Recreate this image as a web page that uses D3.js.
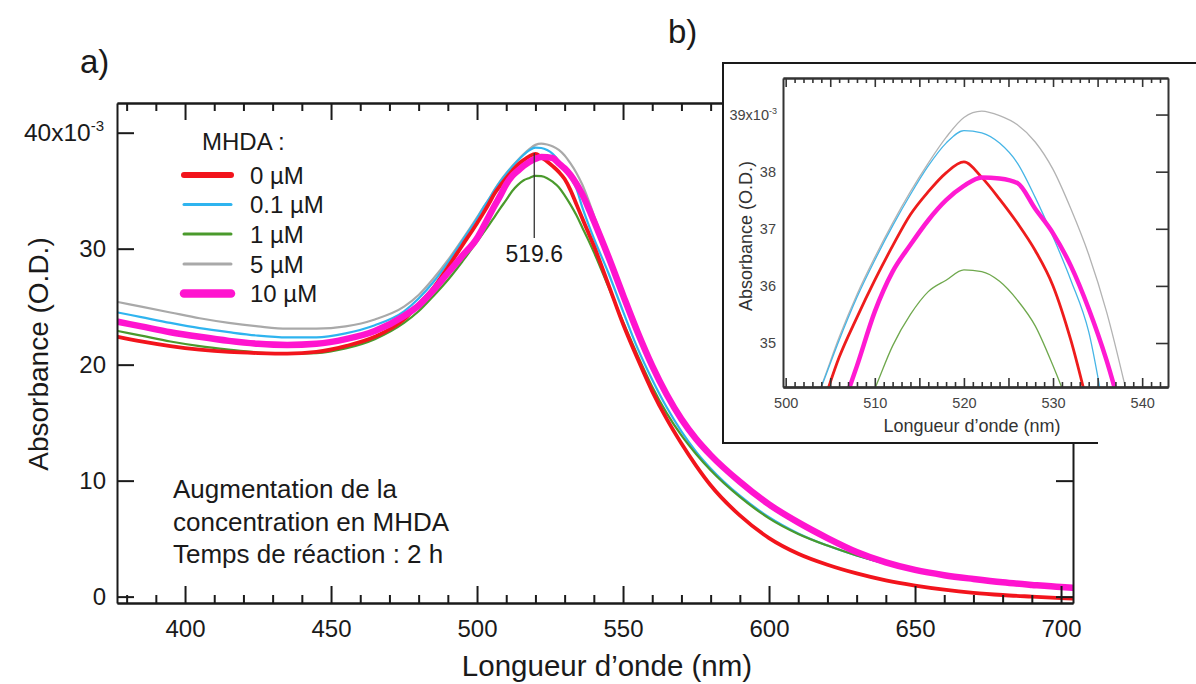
<!DOCTYPE html>
<html>
<head>
<meta charset="utf-8">
<script src="https://cdn.jsdelivr.net/npm/d3@7"></script>
<style>
  html, body { margin: 0; padding: 0; background: #fff; }
  svg { display: block; font-family: "Liberation Sans", Arial, sans-serif; }
</style>
</head>
<body>
<svg id="chart" width="1196" height="684"></svg>
<script>
// ---- data (absorbance in units of 1e-3 O.D.) ----
const wavelengths = [377, 385, 395, 405, 415, 425, 435, 445, 455, 465, 475,
  480, 485, 490, 495,
  500, 502, 504, 506, 508, 510, 512, 514, 516, 518, 520, 522, 524, 526, 528, 530, 532, 534, 536, 538, 540,
  545, 550, 555, 560, 565, 570, 575, 580,
  590, 600, 610, 620, 630, 640, 650, 660, 670, 680, 690, 700, 704];

const mhda5 = [25.4, 25.0, 24.5, 24.0, 23.6, 23.3, 23.1, 23.1, 23.3, 23.9, 25.0,
  26.0, 27.4, 29.0, 30.8,
  32.7, 33.5, 34.25, 35.1, 35.85, 36.5, 37.1, 37.65, 38.15, 38.6, 38.95, 39.06, 38.98, 38.82, 38.52, 38.04, 37.35, 36.55, 35.55, 34.3, 32.9,
  29.5, 26.0, 22.7, 19.75, 17.25, 15.15, 13.45, 12.05,
  9.75, 7.8, 6.25, 4.95, 3.75, 2.88, 2.25, 1.8, 1.47, 1.18, 0.96, 0.77, 0.72];

const mhda01 = [24.5, 24.1, 23.6, 23.15, 22.8, 22.5, 22.35, 22.35, 22.7, 23.4, 24.6,
  25.7, 27.1, 28.8, 30.7,
  32.6, 33.45, 34.23, 35.05, 35.8, 36.45, 37.05, 37.6, 38.1, 38.5, 38.72, 38.68, 38.5, 38.15, 37.55, 36.86, 36.1, 35.2, 33.6, 32.2, 30.9,
  27.9, 24.6, 21.4, 18.7, 16.3, 14.25, 12.5, 11.05,
  8.7, 6.85, 5.45, 4.4, 3.55, 2.85, 2.28, 1.84, 1.5, 1.22, 1.0, 0.8, 0.74];

const mhda1 = [22.9, 22.5, 22.0, 21.6, 21.3, 21.05, 20.95, 21.0, 21.4, 22.2, 23.6,
  24.6, 25.9, 27.3, 28.9,
  30.6, 31.3, 32.0, 32.75, 33.5, 34.2, 34.95, 35.5, 35.9, 36.1, 36.28, 36.25, 36.08, 35.75, 35.3, 34.6, 33.8, 32.9, 31.85, 30.8, 29.7,
  26.7, 23.7, 20.8, 18.1, 15.8, 13.9, 12.3, 10.9,
  8.6, 6.75, 5.4, 4.4, 3.55, 2.85, 2.28, 1.84, 1.5, 1.22, 1.0, 0.8, 0.74];

const mhda0 = [22.4, 22.0, 21.6, 21.3, 21.1, 21.0, 20.95, 21.1, 21.6, 22.4, 23.9,
  25.2, 26.6, 28.4, 30.3,
  32.2, 33.0, 33.85, 34.75, 35.45, 36.1, 36.7, 37.25, 37.65, 37.98, 38.17, 37.9, 37.52, 37.1, 36.62, 36.0, 35.05, 33.85, 32.65, 31.45, 30.25,
  26.9, 23.5, 20.5, 17.7, 15.3, 13.2, 11.3, 9.6,
  7.0, 5.05, 3.7, 2.75, 2.0, 1.4, 0.95, 0.6, 0.33, 0.14, 0.0, -0.13, -0.18];

const mhda10 = [23.7, 23.3, 22.8, 22.4, 22.05, 21.8, 21.7, 21.8, 22.2, 22.9, 24.2,
  25.1, 26.4, 27.9, 29.4,
  30.9, 31.8, 32.75, 33.7, 34.6, 35.55, 36.25, 36.72, 37.15, 37.5, 37.75, 37.9, 37.88, 37.8, 37.35, 36.92, 36.35, 35.6, 34.7, 33.6, 32.4,
  29.3, 26.0, 22.8, 19.9, 17.4, 15.3, 13.6, 12.2,
  9.9, 7.95, 6.4, 5.05, 3.85, 2.95, 2.3, 1.85, 1.52, 1.23, 1.01, 0.82, 0.77];

const seriesLabels = ["0 µM", "0.1 µM", "1 µM", "5 µM", "10 µM"];
const seriesValues = [mhda0, mhda01, mhda1, mhda5, mhda10];
const seriesColors = ["#f2141c", "#2fb4ef", "#4a9a2c", "#a9a9a9", "#ff14cf"];
const mainWidths = [3.8, 2.2, 2.2, 2.2, 6.5];
const legendWidths = [6, 3, 3, 3, 8.5];
const insetColors = ["#ee1c1c", "#46b5e6", "#6fa84d", "#b3b3b3", "#ff1ad2"];
const insetWidths = [2.8, 1.3, 1.3, 1.3, 4.5];
const drawOrder = [3, 1, 2, 0, 4];

const xMajor = [400, 450, 500, 550, 600, 650, 700];
const yMajor = [0, 10, 20, 30, 40];
const insetXMajor = [500, 510, 520, 530, 540];
const insetYMajor = [35, 36, 37, 38, 39];
const peakLabel = 519.6;

const notes = ["Augmentation de la", "concentration en MHDA", "Temps de réaction : 2 h"];

// ---- drawing ----
const svg = d3.select("#chart");
const FONT = '"Liberation Sans", Arial, sans-serif';

const x = d3.scaleLinear().domain([376.7, 704.1]).range([117, 1073]);
const y = d3.scaleLinear().domain([-0.55, 42.56]).range([603, 103]);

svg.append("defs").append("clipPath").attr("id", "mainClip")
  .append("rect").attr("x", 117).attr("y", 103).attr("width", 956).attr("height", 500);

const rows = (vals) => wavelengths.map((w, i) => ({ w, v: vals[i] }));
const lineMain = d3.line().x(d => x(d.w)).y(d => y(d.v)).curve(d3.curveMonotoneX);

const gLines = svg.append("g").attr("clip-path", "url(#mainClip)");
drawOrder.forEach(i => {
  gLines.append("path").datum(rows(seriesValues[i]))
    .attr("d", lineMain).attr("fill", "none")
    .attr("stroke", seriesColors[i]).attr("stroke-width", mainWidths[i])
    .attr("stroke-linejoin", "round").attr("stroke-linecap", "round");
});

// axes (inward ticks, mirrored frame)
function styleAxis(g, fs) {
  g.selectAll("path.domain").attr("stroke", "#1a1a1a").attr("stroke-width", 2);
  g.selectAll(".tick line").attr("stroke", "#1a1a1a").attr("stroke-width", 2);
  g.selectAll(".tick text").attr("font-family", FONT).attr("font-size", fs).attr("fill", "#1a1a1a");
}
const minorX = d3.range(380, 701, 10).filter(v => !xMajor.includes(v));

const gB = svg.append("g").attr("transform", "translate(0,603)")
  .call(d3.axisBottom(x).tickValues(xMajor).tickSize(-17).tickSizeOuter(0).tickPadding(17).tickFormat(d3.format("d")));
styleAxis(gB, 24);
const gBm = svg.append("g").attr("transform", "translate(0,603)")
  .call(d3.axisBottom(x).tickValues(minorX).tickSize(-8).tickSizeOuter(0).tickFormat(""));
styleAxis(gBm, 24);
const gT = svg.append("g").attr("transform", "translate(0,103)")
  .call(d3.axisTop(x).tickValues(xMajor).tickSize(-17).tickSizeOuter(0).tickFormat(""));
styleAxis(gT, 24);
const gTm = svg.append("g").attr("transform", "translate(0,103)")
  .call(d3.axisTop(x).tickValues(minorX).tickSize(-8).tickSizeOuter(0).tickFormat(""));
styleAxis(gTm, 24);
const gL = svg.append("g").attr("transform", "translate(117,0)")
  .call(d3.axisLeft(y).tickValues(yMajor).tickSize(-17).tickSizeOuter(0).tickPadding(11)
    .tickFormat(d => d === 40 ? "" : d));
styleAxis(gL, 24);
const gR = svg.append("g").attr("transform", "translate(1073,0)")
  .call(d3.axisRight(y).tickValues(yMajor).tickSize(-17).tickSizeOuter(0).tickFormat(""));
styleAxis(gR, 24);

// 40x10^-3 label
const t40 = svg.append("text").attr("x", 104).attr("y", y(40)).attr("dy", "0.35em")
  .attr("text-anchor", "end").attr("font-family", FONT).attr("font-size", 24.5).attr("fill", "#1a1a1a");
t40.append("tspan").text("40x10");
t40.append("tspan").attr("font-size", 15).attr("dy", -10).text("-3");

// axis titles
svg.append("text").attr("x", 607).attr("y", 676).attr("text-anchor", "middle")
  .attr("font-family", FONT).attr("font-size", 29.5).attr("fill", "#1a1a1a").text("Longueur d’onde (nm)");
svg.append("text").attr("transform", "translate(48,354) rotate(-90)").attr("text-anchor", "middle")
  .attr("font-family", FONT).attr("font-size", 28).attr("fill", "#1a1a1a").text("Absorbance (O.D.)");

// peak annotation
const peakV = 38.25;
svg.append("line").attr("x1", x(peakLabel)).attr("x2", x(peakLabel))
  .attr("y1", y(peakV)).attr("y2", 238).attr("stroke", "#333").attr("stroke-width", 1.3);
svg.append("text").attr("x", x(peakLabel)).attr("y", 262).attr("text-anchor", "middle")
  .attr("font-family", FONT).attr("font-size", 23).attr("fill", "#1a1a1a").text(peakLabel.toFixed(1));

// legend
svg.append("text").attr("x", 202).attr("y", 150).attr("font-family", FONT).attr("font-size", 24)
  .attr("fill", "#1a1a1a").text("MHDA :");
const legY = [175, 204.5, 234, 264, 293.5];
seriesLabels.forEach((lab, i) => {
  svg.append("line").attr("x1", 184).attr("x2", 231).attr("y1", legY[i]).attr("y2", legY[i])
    .attr("stroke", seriesColors[i]).attr("stroke-width", legendWidths[i]).attr("stroke-linecap", "round");
  svg.append("text").attr("x", 250).attr("y", legY[i] + 8.5).attr("font-family", FONT).attr("font-size", 24)
    .attr("fill", "#1a1a1a").text(lab);
});

// notes
const noteY = [498, 531, 563];
notes.forEach((t, i) => {
  svg.append("text").attr("x", 173).attr("y", noteY[i]).attr("font-family", FONT).attr("font-size", 26)
    .attr("fill", "#1a1a1a").text(t);
});

// panel labels
svg.append("text").attr("x", 80).attr("y", 73).attr("font-family", FONT).attr("font-size", 33)
  .attr("fill", "#1a1a1a").text("a)");
svg.append("text").attr("x", 668).attr("y", 43).attr("font-family", FONT).attr("font-size", 33)
  .attr("fill", "#1a1a1a").text("b)");

// ---- inset ----
const gI = svg.append("g");
gI.append("rect").attr("x", 723).attr("y", 63).attr("width", 480).attr("height", 380).attr("fill", "#fff");
gI.append("path").attr("d", "M1200,63 H723 V443 H1098").attr("fill", "none")
  .attr("stroke", "#1a1a1a").attr("stroke-width", 2);

const xi = d3.scaleLinear().domain([499.7, 542.9]).range([783, 1168]);
const yi = d3.scaleLinear().domain([34.23, 39.64]).range([387, 78]);

svg.select("defs").append("clipPath").attr("id", "insetClip")
  .append("rect").attr("x", 783).attr("y", 78).attr("width", 385).attr("height", 309);

const lineInset = d3.line().x(d => xi(d.w)).y(d => yi(d.v)).curve(d3.curveMonotoneX);
const gIL = gI.append("g").attr("clip-path", "url(#insetClip)");
drawOrder.forEach(i => {
  gIL.append("path").datum(rows(seriesValues[i]))
    .attr("d", lineInset).attr("fill", "none")
    .attr("stroke", insetColors[i]).attr("stroke-width", insetWidths[i])
    .attr("stroke-linejoin", "round");
});

function styleInset(g) {
  g.selectAll("path.domain").attr("stroke", "#333").attr("stroke-width", 2);
  g.selectAll(".tick line").attr("stroke", "#333").attr("stroke-width", 1.6);
  g.selectAll(".tick text").attr("font-family", FONT).attr("font-size", 14.5).attr("fill", "#444");
}
const iMinor = d3.range(500, 543, 1).filter(v => v % 5 !== 0);
const iMid = d3.range(500, 543, 5);
[[387, d3.axisBottom], [78, d3.axisTop]].forEach(([yy, ax]) => {
  const g1 = gI.append("g").attr("transform", `translate(0,${yy})`)
    .call(ax(xi).tickValues(iMinor).tickSize(-5).tickSizeOuter(0).tickFormat(""));
  styleInset(g1);
  const g2 = gI.append("g").attr("transform", `translate(0,${yy})`)
    .call(ax(xi).tickValues(iMid).tickSize(-9).tickSizeOuter(0).tickFormat(""));
  styleInset(g2);
});
const gIBl = gI.append("g").attr("transform", "translate(0,387)")
  .call(d3.axisBottom(xi).tickValues(insetXMajor).tickSize(0).tickSizeOuter(0).tickPadding(11).tickFormat(d3.format("d")));
styleInset(gIBl);
const gILa = gI.append("g").attr("transform", "translate(783,0)")
  .call(d3.axisLeft(yi).tickValues(insetYMajor).tickSize(0).tickSizeOuter(0).tickPadding(7)
    .tickFormat(d => d === 39 ? "" : d));
styleInset(gILa);
const gIR = gI.append("g").attr("transform", "translate(1168,0)")
  .call(d3.axisRight(yi).tickValues(insetYMajor).tickSize(-12).tickSizeOuter(0).tickFormat(""));
styleInset(gIR);

const t39 = gI.append("text").attr("x", 777).attr("y", yi(39)).attr("dy", "0.35em")
  .attr("text-anchor", "end").attr("font-family", FONT).attr("font-size", 14.5).attr("fill", "#444");
t39.append("tspan").text("39x10");
t39.append("tspan").attr("font-size", 9).attr("dy", -6).text("-3");

gI.append("text").attr("x", 972).attr("y", 432).attr("text-anchor", "middle")
  .attr("font-family", FONT).attr("font-size", 18).attr("fill", "#333").text("Longueur d’onde (nm)");
gI.append("text").attr("transform", "translate(752,236) rotate(-90)").attr("text-anchor", "middle")
  .attr("font-family", FONT).attr("font-size", 18).attr("fill", "#333").text("Absorbance (O.D.)");
</script>
</body>
</html>
